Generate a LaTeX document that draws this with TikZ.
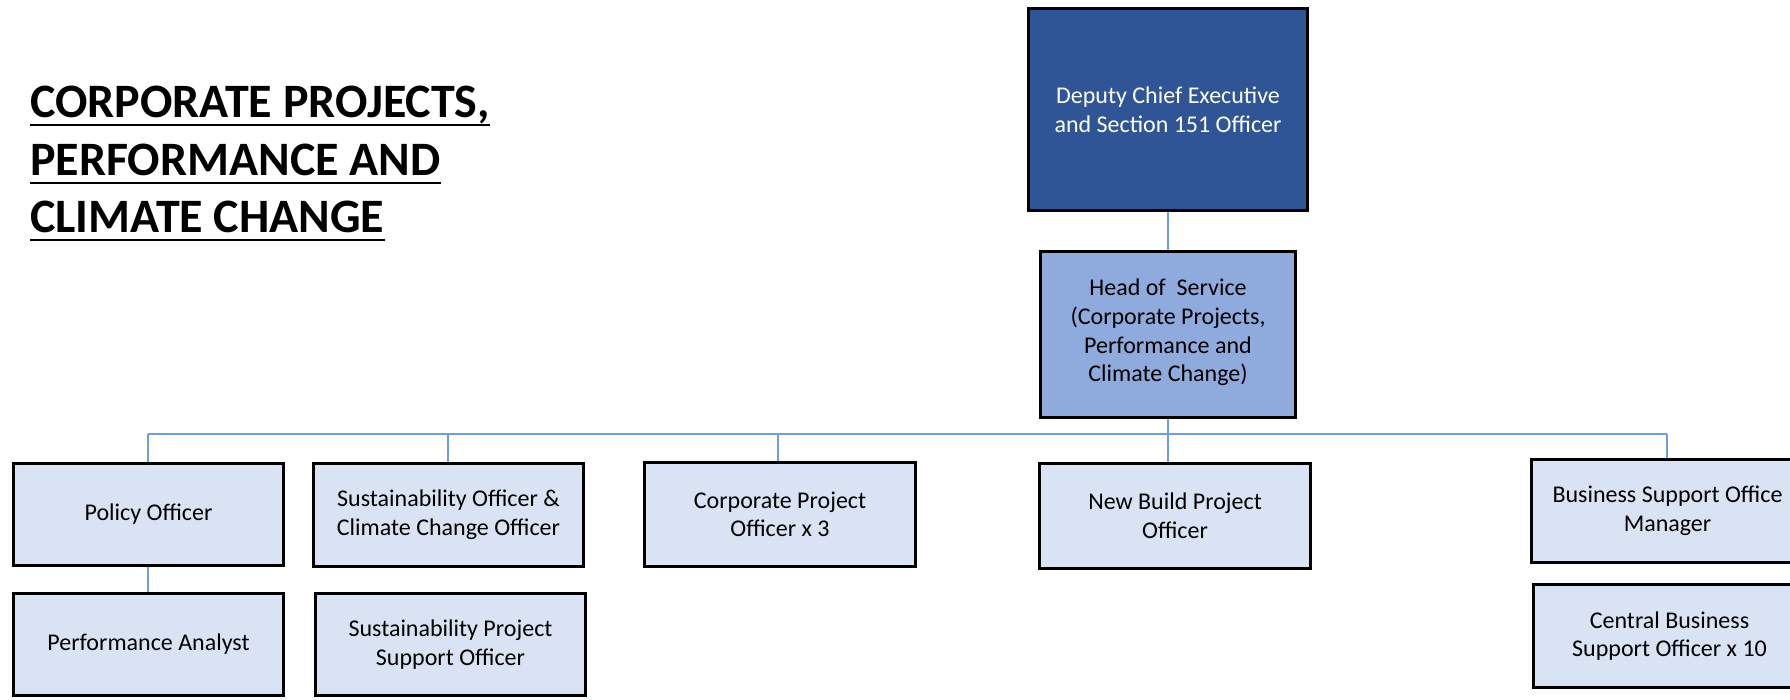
\documentclass[tikz,border=0pt]{standalone}
\usepackage{fontspec}
\setmainfont{Carlito}
\definecolor{darkfill}{HTML}{2F5597}
\definecolor{midfill}{HTML}{8FAADC}
\definecolor{lightfill}{HTML}{DAE3F3}
\definecolor{connblue}{RGB}{110,160,215}
\begin{document}
\begin{tikzpicture}[x=1pt,y=-1pt,
  box/.style={draw=black, line width=3pt, fill=lightfill, align=center, inner sep=0pt,
    font=\fontsize{24}{28.6}\selectfont, text=black},
  conn/.style={draw=connblue, line width=1.8pt},
  titletext/.style={anchor=base west, inner sep=0pt, font=\fontsize{48}{57.5}\selectfont\bfseries},
  ul/.style={draw=black, line width=2.7pt}]
\useasboundingbox (0,0) rectangle (1790,699);

% title
\node[titletext] (t1) at (30,117) {CORPORATE PROJECTS,};
\node[titletext] (t2) at (30,175) {PERFORMANCE AND};
\node[titletext] (t3) at (30,232) {CLIMATE CHANGE};
\draw[ul] ([yshift=-8pt]t1.base west) -- ([yshift=-8pt]t1.base east);
\draw[ul] ([yshift=-8pt]t2.base west) -- ([yshift=-8pt]t2.base east);
\draw[ul] ([yshift=-8pt]t3.base west) -- ([yshift=-8pt]t3.base east);

% boxes
\node[box, fill=darkfill, text=white, minimum width=279pt, minimum height=202pt] (dep) at (1168,109.5) {Deputy Chief Executive\\and Section 151 Officer};
\node[box, fill=midfill, minimum width=255pt, minimum height=166pt, text depth=8pt] (head) at (1168,334.5) {Head of\ \ Service\\(Corporate Projects,\\Performance and\\Climate Change)};
\node[box, minimum width=270pt, minimum height=102pt] (pol) at (148.5,514.5) {Policy Officer};
\node[box, minimum width=270pt, minimum height=103pt] (sus) at (448.5,515) {Sustainability Officer \&\\Climate Change Officer};
\node[box, minimum width=271pt, minimum height=104pt] (corp) at (780,514.5) {Corporate Project\\Officer x 3};
\node[box, minimum width=271pt, minimum height=105pt] (nb) at (1175,516) {New Build Project\\Officer};
\node[box, minimum width=272pt, minimum height=103pt] (bsm) at (1667.5,511) {Business Support Office\\Manager};
\node[box, minimum width=270pt, minimum height=102pt] (perf) at (148.5,644.5) {Performance Analyst};
\node[box, minimum width=270pt, minimum height=102pt] (susp) at (450.5,644.5) {Sustainability Project\\Support Officer};
\node[box, minimum width=272pt, minimum height=103pt] (cbs) at (1669.5,636) {Central Business\\Support Officer x 10};

% connectors
\coordinate (busL) at (148,434);
\coordinate (busR) at (1667,434);
\coordinate (busH) at (1168,434);
\draw[conn] (dep.south) -- (head.north);
\draw[conn] (head.south) -- (busH);
\draw[conn] (busL) -- (busR);
\draw[conn] (busL) -- (busL |- pol.north);
\draw[conn] (448,434) -- (448,462);
\draw[conn] (778,434) -- (778,461);
\draw[conn] (busH) -- (busH |- nb.north);
\draw[conn] (busR) -- (busR |- bsm.north);
\draw[conn] (busL |- pol.south) -- (busL |- perf.north);
\end{tikzpicture}
\end{document}
